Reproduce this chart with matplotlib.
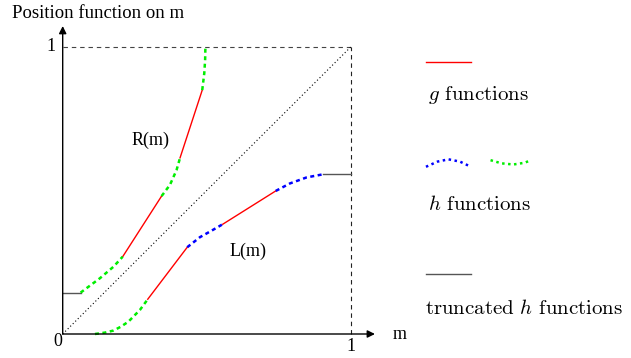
import numpy as np
import matplotlib
matplotlib.use('Agg')
from matplotlib import pyplot as plt

# R(m) pieces: (m, value)
r_trunc_m = [0.0, 0.062]
r_trunc_v = [0.144, 0.144]
r_h1_m = [0.062, 0.129, 0.176, 0.208]
r_h1_v = [0.144, 0.194, 0.234, 0.269]
r_g1_m = [0.208, 0.343]
r_g1_v = [0.269, 0.480]
r_h2_m = [0.343, 0.372, 0.395, 0.407]
r_h2_v = [0.480, 0.519, 0.571, 0.613]
r_g2_m = [0.407, 0.484]
r_g2_v = [0.613, 0.849]
r_h3_m = [0.484, 0.491, 0.494, 0.495]
r_h3_v = [0.849, 0.907, 0.954, 1.0]

# L(m) pieces
l_h1_m = [0.112, 0.147, 0.176, 0.201, 0.228, 0.268, 0.295]
l_h1_v = [0.0, 0.005, 0.012, 0.025, 0.043, 0.084, 0.121]
l_g1_m = [0.295, 0.432]
l_g1_v = [0.121, 0.302]
l_h2_m = [0.432, 0.476, 0.517, 0.555]
l_h2_v = [0.302, 0.337, 0.360, 0.382]
l_g2_m = [0.555, 0.739]
l_g2_v = [0.382, 0.498]
l_h3_m = [0.739, 0.788, 0.846, 0.904]
l_h3_v = [0.498, 0.524, 0.545, 0.556]
l_trunc_m = [0.904, 1.0]
l_trunc_v = [0.556, 0.556]

# legend wiggles
blue_wave_x = [1.260, 1.300, 1.338, 1.378, 1.416]
blue_wave_y = [0.582, 0.600, 0.608, 0.600, 0.582]
green_wave_x = [1.484, 1.522, 1.563, 1.602, 1.624]
green_wave_y = [0.605, 0.594, 0.590, 0.596, 0.605]

plt.rcParams['mathtext.fontset'] = 'cm'

fig = plt.figure(figsize=(6.31, 3.58), dpi=100)
ax = fig.add_axes([62.7/631, 24/358, 288.3/631, 287.3/358])
ax.set_xlim(0, 1)
ax.set_ylim(0, 1)
ax.axis('off')

RED = '#ff0000'
GREEN = '#00ee00'
BLUE = '#0000ff'
GREY = '#555555'
dash = (0, (1.6, 1.4))

# frame: dashed lines and diagonal
ax.plot([0, 1], [1, 1], color='#444444', lw=0.8, ls=(0, (4, 3.5)), clip_on=False)
ax.plot([1, 1], [0, 1], color='#222222', lw=0.8, ls=(0, (4, 3.5)), clip_on=False)
ax.plot([0, 1], [0, 1], color='black', lw=0.8, ls=(0, (1, 2.2)), clip_on=False)

# axes with arrows
ax.annotate('', xy=(1.083, 0), xytext=(0, 0), annotation_clip=False,
            arrowprops=dict(arrowstyle='-|>', color='black', lw=1.0,
                            mutation_scale=11, shrinkA=0, shrinkB=0))
ax.annotate('', xy=(0, 1.072), xytext=(0, 0), annotation_clip=False,
            arrowprops=dict(arrowstyle='-|>', color='black', lw=1.0,
                            mutation_scale=11, shrinkA=0, shrinkB=0))

for m, v in [(r_trunc_m, r_trunc_v), (l_trunc_m, l_trunc_v)]:
    ax.plot(m, v, color=GREY, lw=1.0, clip_on=False)
for m, v in [(r_g1_m, r_g1_v), (r_g2_m, r_g2_v), (l_g1_m, l_g1_v), (l_g2_m, l_g2_v)]:
    ax.plot(m, v, color=RED, lw=1.0, clip_on=False)
for m, v in [(r_h1_m, r_h1_v), (r_h2_m, r_h2_v), (r_h3_m, r_h3_v), (l_h1_m, l_h1_v)]:
    ax.plot(m, v, color=GREEN, lw=1.8, ls=dash, clip_on=False)
for m, v in [(l_h2_m, l_h2_v), (l_h3_m, l_h3_v)]:
    ax.plot(m, v, color=BLUE, lw=1.8, ls=dash, clip_on=False)

# labels (Times-like)
serif = dict(family='Liberation Serif', fontsize=13)
ax.text(0.306, 0.675, 'R(m)', ha='center', va='center', **serif)
ax.text(0.643, 0.286, 'L(m)', ha='center', va='center', **serif)
ax.text(-0.016, -0.027, '0', ha='center', va='center', **serif)
ax.text(1.0, -0.042, '1', ha='center', va='center', **serif)
ax.text(-0.025, 1.0, '1', ha='right', va='center', **serif)
ax.text(1.170, -0.003, 'm', ha='center', va='center', **serif)
fig.text(12/631, 1 - 13/358, 'Position function on m', ha='left', va='center',
         family='Liberation Serif', fontsize=13.5)

# legend
ax.plot([1.260, 1.416], [0.947, 0.947], color=RED, lw=1.0, clip_on=False)
ax.plot(blue_wave_x, blue_wave_y, color=BLUE, lw=1.8, ls=(0, (1, 1.4)), clip_on=False)
ax.plot(green_wave_x, green_wave_y, color=GREEN, lw=1.8, ls=(0, (1, 1.4)), clip_on=False)
ax.plot([1.260, 1.416], [0.209, 0.209], color=GREY, lw=1.0, clip_on=False)
cm = dict(family='cmr10', fontsize=15, ha='left', va='center')
ax.text(1.267, 0.832, r'$g$ functions', **cm)
ax.text(1.267, 0.452, r'$h$ functions', **cm)
ax.text(1.257, 0.090, r'truncated $h$ functions', **cm)

fig.savefig('out.png', dpi=100)
